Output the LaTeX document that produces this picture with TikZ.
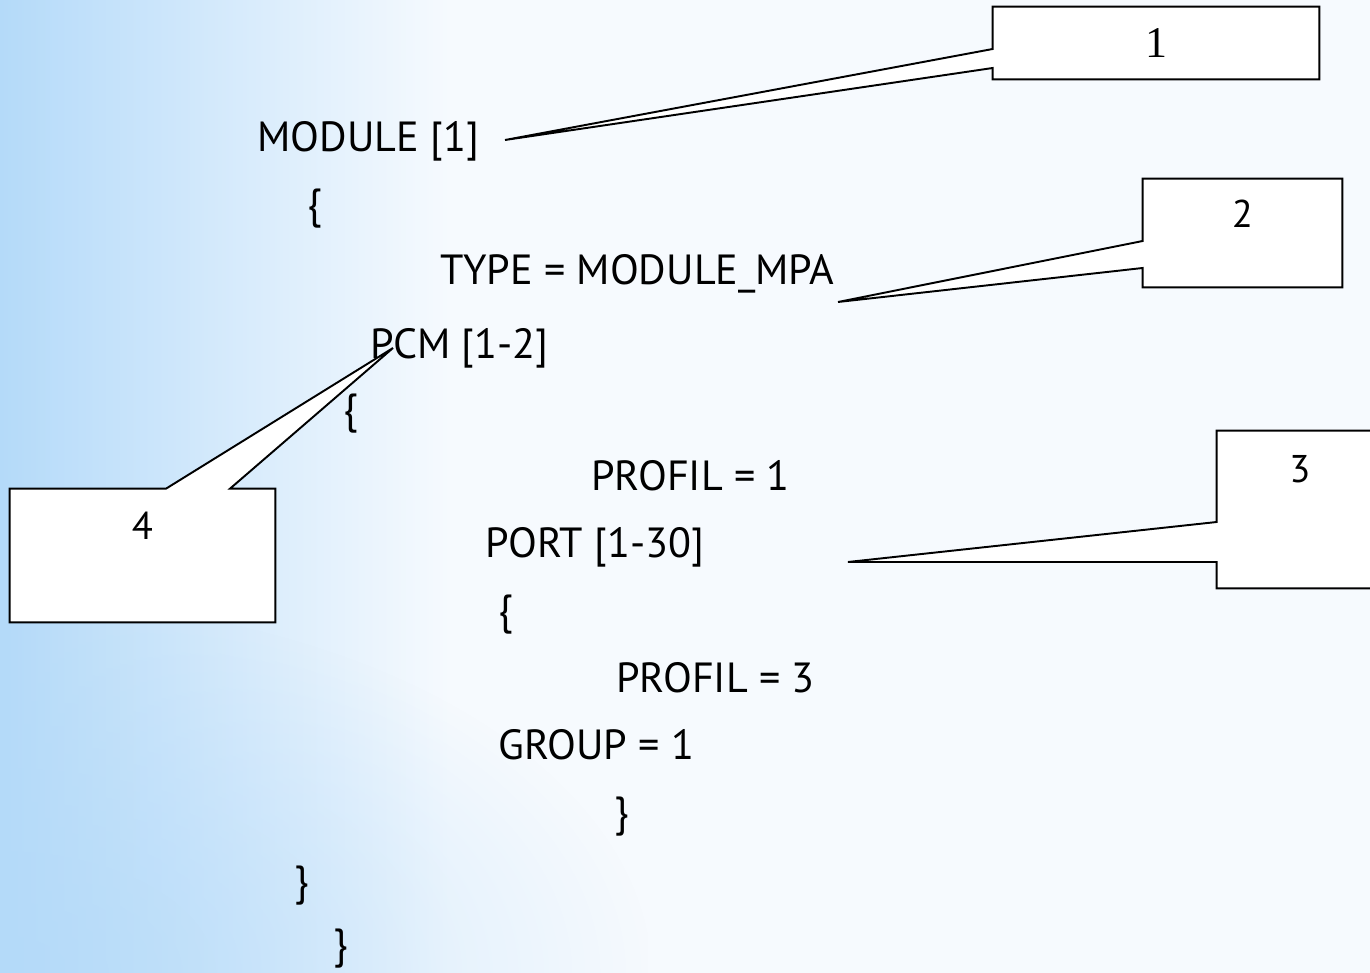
\documentclass[tikz,border=0pt]{standalone}
\usepackage{fontspec}
\usetikzlibrary{positioning,fadings}
\newfontfamily\codefont{PT Sans}
\newfontfamily\numserif{Liberation Serif}
\definecolor{skyblue}{RGB}{180,218,249}
\definecolor{paleblue}{RGB}{246,250,254}
\tikzfading[name=glowfade, inner color=transparent!0, outer color=transparent!100]

\begin{document}
\begin{tikzpicture}[x=0.02cm, y=-0.02cm,
    code/.style={anchor=base west, inner sep=0pt, font=\codefont\fontsize{24}{28}\selectfont},
    frame/.style={inner sep=0pt, minimum width=#1},
    callout/.style={draw=black, fill=white, line width=1.1pt},
    numlabel/.style={inner sep=0pt, font=\codefont\fontsize{22}{26}\selectfont}
]
\useasboundingbox (0,0) rectangle (1370,973);
\clip (0,0) rectangle (1370,973);

% background
\fill[paleblue] (0,0) rectangle (1370,973);
\shade[left color=skyblue, right color=paleblue] (0,0) rectangle (450,973);
\fill[skyblue, path fading=glowfade, opacity=0.75] (-650,600) rectangle (650,1350);

% the configuration text
\node[code] (mod)    at (257,152) {MODULE [1]};
\node[code] (open1)  at (307,219) {\{};
\node[code] (type)   at (440,285) {TYPE = MODULE\_MPA};
\node[code] (pcm)    at (370,358) {PCM [1-2]};
\node[code] (open2)  at (343,423) {\{};
\node[code] (prof1)  at (591,490) {PROFIL = 1};
\node[code] (port)   at (485,557) {PORT [1-30]};
\node[code] (open3)  at (498,624) {\{};
\node[code] (prof3)  at (616,692) {PROFIL = 3};
\node[code] (group)  at (498,759) {GROUP = 1};
\node[code] (close3) at (614,826) {\}};
\node[code] (close2) at (294,895) {\}};
\node[code] (close1) at (333,958) {\}};

% callout boxes
\node[frame=6.52cm, minimum height=1.44cm] (c1) at (1156,43) {};
\node[frame=3.98cm, minimum height=2.16cm] (c2) at (1242.5,233) {};
\node[frame=3.32cm, minimum height=3.14cm] (c3) at (1300,509.5) {};
\node[frame=5.30cm, minimum height=2.66cm] (c4) at (142.5,555.5) {};

\coordinate (tip1) at (505,140);
\coordinate (tip2) at (838,302);
\coordinate (tip3) at (848,562);
\coordinate (tip4) at (393,348);

\draw[callout] (c1.north west) -- (c1.north east) -- (c1.south east) -- (c1.south west)
    -- (c1.west |- 0,68) -- (tip1) -- (c1.west |- 0,49) -- cycle;
\draw[callout] (c2.north west) -- (c2.north east) -- (c2.south east) -- (c2.south west)
    -- (c2.west |- 0,268) -- (tip2) -- (c2.west |- 0,241) -- cycle;
\draw[callout] (c3.north west) -- (c3.north east) -- (c3.south east) -- (c3.south west)
    -- (c3.west |- 0,562) -- (tip3) -- (c3.west |- 0,522) -- cycle;
\draw[callout] (c4.north west) -- (c4.north -| 166,0) -- (tip4) -- (c4.north -| 230,0)
    -- (c4.north east) -- (c4.south east) -- (c4.south west) -- cycle;

% callout numbers
\node[inner sep=0pt, font=\numserif\fontsize{25}{30}\selectfont] (n1) at (c1.center) {1};
\node[numlabel, below=0.42cm of c2.north] (n2) {2};
\node[numlabel, below=0.48cm of c3.north] (n3) {3};
\node[numlabel, below=0.46cm of c4.north] (n4) {4};
\end{tikzpicture}
\end{document}
